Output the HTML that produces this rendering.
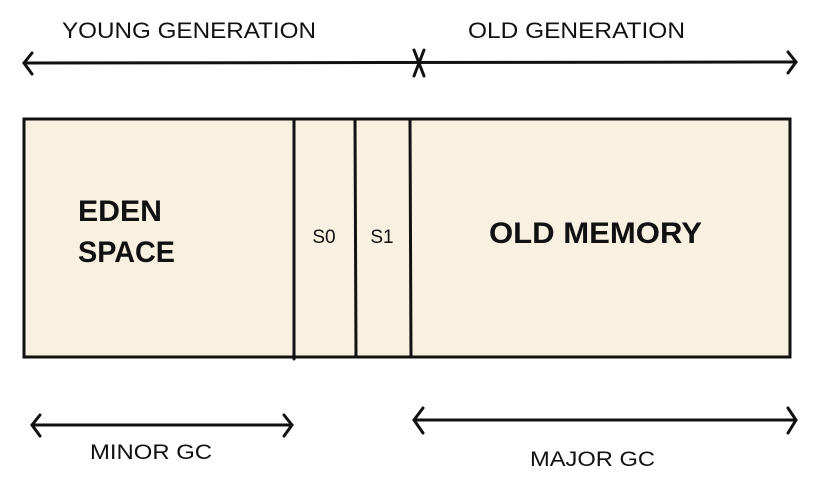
<!DOCTYPE html>
<html><head><meta charset="utf-8"><style>
html,body{margin:0;padding:0;background:#fff;width:818px;height:486px;overflow:hidden}
text{font-family:"Liberation Sans",sans-serif;fill:#111}
</style></head><body>
<svg width="818" height="486" viewBox="0 0 818 486" xmlns="http://www.w3.org/2000/svg">
<g stroke="#111" stroke-width="3" fill="none" stroke-linecap="round">
<line x1="24" y1="63" x2="796" y2="62"/>
<polyline points="32,53 24,63 32,74"/>
<polyline points="788,52 796,62 788,73"/>
<line x1="414" y1="50" x2="424" y2="76"/>
<line x1="424" y1="50" x2="414" y2="76"/>
<rect x="24" y="119" width="766" height="238" fill="#f8f1e1"/>
<line x1="294" y1="119" x2="294" y2="359"/>
<line x1="355" y1="119" x2="356" y2="357"/>
<line x1="410" y1="119" x2="411" y2="357"/>
<line x1="32" y1="425" x2="292" y2="425"/>
<polyline points="40,415 32,425 40,436"/>
<polyline points="284,415 292,425 284,436"/>
<line x1="414" y1="420" x2="796" y2="420"/>
<polyline points="423,408 414,420 423,433"/>
<polyline points="788,408 796,420 788,433"/>
</g>
<text x="62" y="38" font-size="22" textLength="254" lengthAdjust="spacingAndGlyphs">YOUNG GENERATION</text>
<text x="468" y="38" font-size="22" textLength="217" lengthAdjust="spacingAndGlyphs">OLD GENERATION</text>
<text x="78" y="221" font-size="30" font-weight="bold" textLength="84" lengthAdjust="spacingAndGlyphs">EDEN</text>
<text x="78" y="262" font-size="30" font-weight="bold" textLength="97" lengthAdjust="spacingAndGlyphs">SPACE</text>
<text x="324" y="243" font-size="19" text-anchor="middle">S0</text>
<text x="382" y="243" font-size="19" text-anchor="middle">S1</text>
<text x="489" y="243" font-size="30" font-weight="bold" textLength="213" lengthAdjust="spacingAndGlyphs">OLD MEMORY</text>
<text x="90" y="459" font-size="21" textLength="122" lengthAdjust="spacingAndGlyphs">MINOR GC</text>
<text x="530" y="466" font-size="21" textLength="125" lengthAdjust="spacingAndGlyphs">MAJOR GC</text>
</svg>
</body></html>
